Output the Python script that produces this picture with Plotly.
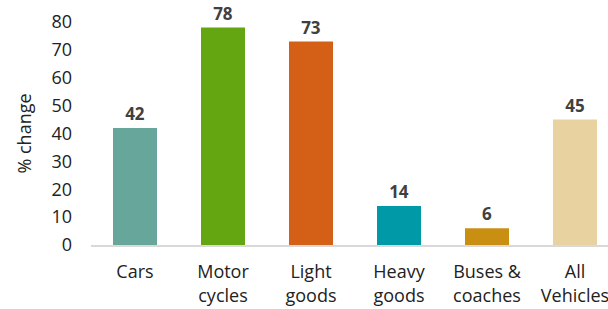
import plotly.graph_objects as go

categories = ["Cars", "Motor<br>cycles", "Light<br>goods", "Heavy<br>goods", "Buses &<br>coaches", "All<br>Vehicles"]
values = [42, 78, 73, 14, 6, 45]
labels = ["42", "78", "73", "14", "6", "45"]
colors = ["#67A69A", "#63A612", "#D45F17", "#0099A8", "#C98F12", "#E8D3A0"]
y_ticks = [0, 10, 20, 30, 40, 50, 60, 70, 80]

fig = go.Figure(go.Bar(
    x=categories, y=values, marker_color=colors, marker_line_width=0,
    text=labels, textposition="outside", cliponaxis=False,
    textfont=dict(family="Open Sans", size=17, color="#404040", weight="bold"),
))
fig.update_layout(
    width=608, height=309,
    margin=dict(l=91, r=0, t=22, b=64, autoexpand=False),
    plot_bgcolor="white", paper_bgcolor="white",
    bargap=0.5, showlegend=False,
    font=dict(family="Open Sans", size=18, color="#222222"),
    xaxis=dict(range=[-0.5, 5.375], showline=True, linecolor="#D9D9D9", linewidth=1.5,
               ticks="", automargin=False, ticklabelstandoff=10,
               tickfont=dict(size=18, color="#222222")),
    yaxis=dict(range=[0, 80], tickvals=y_ticks, showgrid=False, zeroline=False, showline=False,
               ticks="", automargin=False, ticklabelstandoff=18,
               tickfont=dict(size=18, color="#222222"),
               title=dict(text="% change", font=dict(size=18, color="#222222"))),
)
fig.write_html("out.html", config={"displayModeBar": False},
               post_script="document.body.style.margin='0';document.body.style.overflow='hidden';")
